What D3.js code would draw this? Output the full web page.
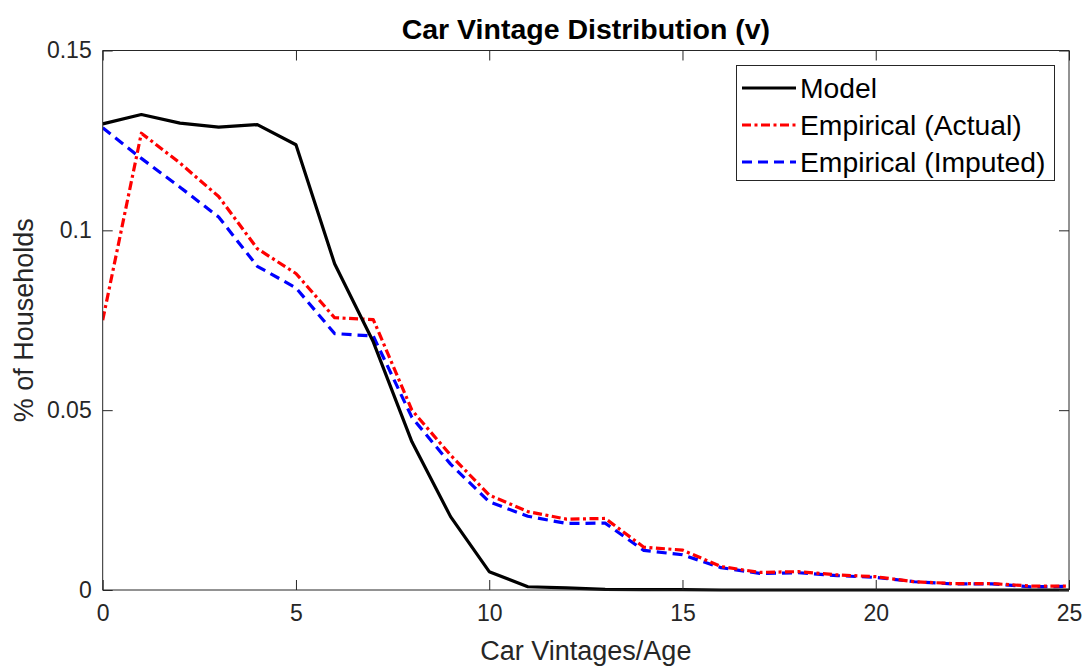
<!DOCTYPE html>
<html><head><meta charset="utf-8">
<script src="https://cdn.jsdelivr.net/npm/d3@7"></script>
<style>body{margin:0;background:#fff;} svg{display:block;font-family:"Liberation Sans",Arial,sans-serif;}</style>
</head><body>
<svg id="chart" width="1087" height="668"></svg>
<script>
const ages = d3.range(0, 26);
const modelValues = [0.1296,0.1322,0.1298,0.1287,0.1294,0.1238,0.0907,0.0690,0.0412,0.0204,0.0051,0.0009,0.0006,0.0002,0.0001,0.0001,0,0,0,0,0,0,0,0,0,0];
const actualValues = [0.0750,0.1270,0.1187,0.1094,0.0949,0.0880,0.0757,0.0752,0.0500,0.0375,0.0264,0.0218,0.0197,0.0199,0.0119,0.0111,0.0065,0.0049,0.0051,0.0042,0.0037,0.0023,0.0018,0.0018,0.0011,0.0011];
const imputedValues = [0.1285,0.1200,0.1120,0.1037,0.0900,0.0840,0.0713,0.0706,0.0480,0.0350,0.0245,0.0205,0.0185,0.0186,0.0110,0.0098,0.0062,0.0046,0.0048,0.0040,0.0035,0.0023,0.0017,0.0017,0.0009,0.0010];
const xTicks = [0,5,10,15,20,25];
const yTicks = [0,0.05,0.1,0.15];
const seriesNames = ["Model","Empirical (Actual)","Empirical (Imputed)"];

const svg = d3.select("#chart");
const L = 102.7, R = 1069, T = 50.5, B = 590;
const x = d3.scaleLinear().domain([0,25]).range([L,R]);
const y = d3.scaleLinear().domain([0,0.15]).range([B,T]);
const axisColor = "#262626";

const series = [
  {name: seriesNames[0], values: modelValues, color:"#000000", dash:null},
  {name: seriesNames[1], values: actualValues, color:"#ff0000", dash:"9,3.5,3,3.5"},
  {name: seriesNames[2], values: imputedValues, color:"#0000ff", dash:"10,6"}
];
const line = d3.line().x((d,i)=>x(ages[i])).y(d=>y(d));
svg.append("clipPath").attr("id","clip").append("rect")
  .attr("x",L).attr("y",T-2).attr("width",R-L+2).attr("height",B-T+4);
const g = svg.append("g").attr("clip-path","url(#clip)");
series.slice().reverse().forEach(s=>{
  g.append("path").datum(s.values).attr("d",line)
    .attr("fill","none").attr("stroke",s.color).attr("stroke-width",3.2)
    .attr("stroke-dasharray",s.dash).attr("stroke-linejoin","round");
});

const tl = 10;
const axB = svg.append("g").attr("transform",`translate(0,${B})`)
  .call(d3.axisBottom(x).tickValues(xTicks).tickSize(-tl).tickPadding(15).tickFormat(d3.format("d")));
const axT = svg.append("g").attr("transform",`translate(0,${T})`)
  .call(d3.axisTop(x).tickValues(xTicks).tickSize(-tl).tickFormat(""));
const axL = svg.append("g").attr("transform",`translate(${L},0)`)
  .call(d3.axisLeft(y).tickValues(yTicks).tickSize(-tl).tickPadding(11).tickFormat(d=>d===0?"0":String(d)));
const axR = svg.append("g").attr("transform",`translate(${R},0)`)
  .call(d3.axisRight(y).tickValues(yTicks).tickSize(-tl).tickFormat(""));
[axB,axT,axL,axR].forEach(a=>{
  a.selectAll(".domain").attr("stroke",axisColor).attr("stroke-width",1);
  a.selectAll(".tick line").attr("stroke",axisColor).attr("stroke-width",1);
  a.selectAll("text").attr("fill",axisColor).style("font-size","23px").style("font-family","Liberation Sans, Arial, sans-serif");
});
axB.selectAll(".domain").attr("d",`M${L},0H${R}`);
axT.selectAll(".domain").attr("d",`M${L},0H${R}`);
axL.selectAll(".domain").attr("d",`M0,${B}V${T}`);
axR.selectAll(".domain").attr("d",`M0,${B}V${T}`);

svg.append("text").attr("x",(L+R)/2).attr("y",39).attr("text-anchor","middle")
  .style("font-size","28.5px").style("font-weight","bold").attr("fill","#000").text("Car Vintage Distribution (v)");
svg.append("text").attr("x",(L+R)/2).attr("y",660).attr("text-anchor","middle")
  .style("font-size","27px").attr("fill",axisColor).text("Car Vintages/Age");
svg.append("text").attr("transform",`translate(33,${(T+B)/2}) rotate(-90)`).attr("text-anchor","middle")
  .style("font-size","27px").attr("fill",axisColor).text("% of Households");

const lg = svg.append("g");
lg.append("rect").attr("x",736.5).attr("y",65.5).attr("width",318).attr("height",115)
  .attr("fill","#fff").attr("stroke",axisColor).attr("stroke-width",1);
series.forEach((s,i)=>{
  const yy = 88 + i*37;
  lg.append("line").attr("x1",742).attr("x2",796).attr("y1",yy).attr("y2",yy)
    .attr("stroke",s.color).attr("stroke-width",3.2).attr("stroke-dasharray",s.dash);
  lg.append("text").attr("x",800).attr("y",yy).attr("dy","0.35em")
    .style("font-size","28.3px").attr("fill","#000").text(s.name);
});
</script>
</body></html>
